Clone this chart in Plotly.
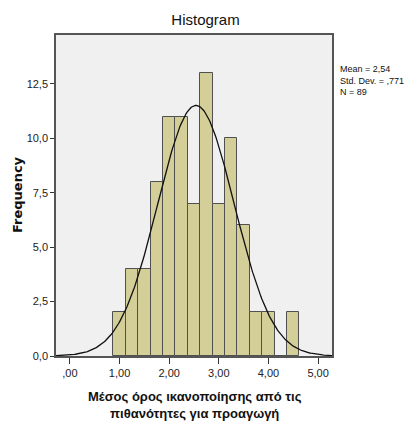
import numpy as np
import plotly.graph_objects as go

bin_centers = [1.0, 1.25, 1.5, 1.75, 2.0, 2.25, 2.5, 2.75, 3.0, 3.25, 3.5, 3.75, 4.0, 4.25, 4.5]
counts = [2, 4, 4, 8, 11, 11, 7, 13, 7, 10, 6, 2, 2, 0, 2]
bin_width = 0.25
mean_val = 2.54
std_val = 0.771
n_val = 89

x_tickvals = [0, 1, 2, 3, 4, 5]
x_ticktext = [",00", "1,00", "2,00", "3,00", "4,00", "5,00"]
y_tickvals = [0, 2.5, 5, 7.5, 10, 12.5]
y_ticktext = ["0,0", "2,5", "5,0", "7,5", "10,0", "12,5"]

xs = np.linspace(-0.28, 5.28, 300)
ys = n_val * bin_width * np.exp(-0.5 * ((xs - mean_val) / std_val) ** 2) / (std_val * np.sqrt(2 * np.pi))

fig = go.Figure()
fig.add_trace(go.Bar(x=bin_centers, y=counts, width=bin_width,
                     marker=dict(color="#d4cf99", line=dict(color="#505050", width=1)),
                     showlegend=False, hoverinfo="skip"))
fig.add_trace(go.Scatter(x=xs, y=ys, mode="lines", line=dict(color="#111111", width=1.3),
                         showlegend=False, hoverinfo="skip"))

font_family = "Liberation Sans, Arial, sans-serif"

L, R, T, B = 56, 76, 35, 69
pw = 408 - L - R
ph = 425 - T - B
bottom_px = 425 - B

def px_x(px):
    return (px - L) / pw

def px_y(py):
    return (bottom_px - py) / ph

fig.update_layout(
    width=408, height=425,
    margin=dict(l=L, r=R, t=T, b=B),
    paper_bgcolor="white", plot_bgcolor="#f0f0f0",
    font=dict(family=font_family, color="#111111", size=11),
    bargap=0,
    title=dict(text="Histogram", x=221/408, xanchor="center", y=1-20/425, yanchor="middle",
               xref="paper", yref="container", font=dict(size=15, color="#111111")),
    xaxis=dict(range=[-0.28, 5.28], tickvals=x_tickvals, ticktext=x_ticktext,
               ticks="outside", ticklen=6, tickcolor="#333333", tickwidth=1.2,
               showgrid=False, zeroline=False, showline=True, linecolor="#555555", linewidth=1.5,
               mirror=True, tickfont=dict(size=11, color="#222222")),
    yaxis=dict(range=[0, 14.75], tickvals=y_tickvals, ticktext=y_ticktext,
               ticks="outside", ticklen=4, tickcolor="#333333", tickwidth=1.2,
               showgrid=False, zeroline=False, showline=True, linecolor="#555555", linewidth=1.5,
               mirror=True, tickfont=dict(size=11, color="#222222")),
    annotations=[
        dict(text="<b>Μέσος όρος ικανοποίησης από τις<br>πιθανότητες για προαγωγή</b>",
             x=px_x(195), y=px_y(405), xref="paper", yref="paper",
             xanchor="center", yanchor="middle",
             showarrow=False, font=dict(size=13, color="#111111")),
        dict(text="<b>Frequency</b>", textangle=-90, x=px_x(17), y=px_y(195),
             xref="paper", yref="paper", xanchor="center", yanchor="middle",
             showarrow=False, font=dict(size=13, color="#111111", family="DejaVu Sans, sans-serif")),
        dict(text="Mean = 2,54<br>Std. Dev. = ,771<br>N = 89", align="left",
             x=px_x(338), y=px_y(80), xref="paper", yref="paper", xanchor="left", yanchor="middle",
             showarrow=False, font=dict(size=9, color="#111111")),
    ],
)

fig.write_html("out.html")
